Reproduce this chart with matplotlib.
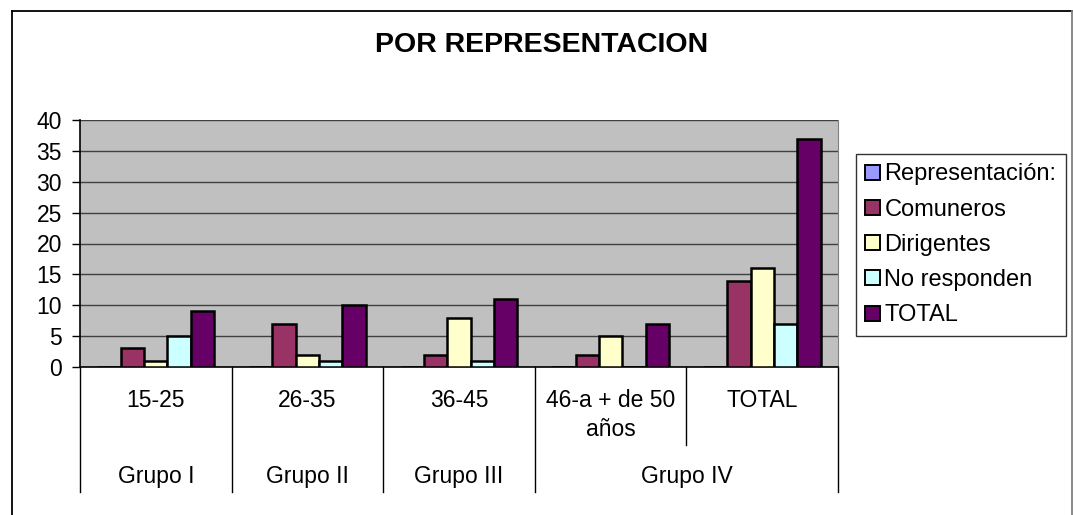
import matplotlib
matplotlib.use("Agg")
import matplotlib.pyplot as plt
import numpy as np
from matplotlib.transforms import blended_transform_factory
from matplotlib.lines import Line2D
from matplotlib.patches import Patch

plt.rcParams['font.family'] = ['Liberation Sans', 'DejaVu Sans']

categories = ["15-25", "26-35", "36-45", "46-a + de 50\naños", "TOTAL"]
groups = ["Grupo I", "Grupo II", "Grupo III", "Grupo IV"]
group_spans = [(0, 0), (1, 1), (2, 2), (3, 4)]
series_names = ["Representación:", "Comuneros", "Dirigentes", "No responden", "TOTAL"]
representacion = [0, 0, 0, 0, 0]
comuneros = [3, 7, 2, 2, 14]
dirigentes = [1, 2, 8, 5, 16]
no_responden = [5, 1, 1, 0, 7]
total = [9, 10, 11, 7, 37]
series_values = [representacion, comuneros, dirigentes, no_responden, total]
colors = ["#9999FF", "#993366", "#FFFFCC", "#CCFFFF", "#660066"]
yticks = [0, 5, 10, 15, 20, 25, 30, 35, 40]

W, H = 1073, 515
fig = plt.figure(figsize=(W / 100, H / 100), dpi=100)
fig.patch.set_facecolor("white")

FS = 16.5

left, right, top, bottom = 80, 838, 120, 367
ax = fig.add_axes([left / W, 1 - bottom / H, (right - left) / W, (bottom - top) / H])
ax.set_facecolor("#C0C0C0")

n = len(series_names)
w = 1 / (n + 1.5)
x = np.arange(len(categories))
for i, (vals, c) in enumerate(zip(series_values, colors)):
    ax.bar(x + (i - (n - 1) / 2) * w, vals, width=w, color=c, edgecolor="black",
           linewidth=1.8, zorder=3)

ax.set_xlim(-0.5, len(categories) - 0.5)
ax.set_ylim(0, 40)
ax.set_yticks(yticks)
ax.set_yticklabels([str(v) for v in yticks], fontsize=FS)
ax.tick_params(axis='y', direction='out', length=6, width=1, pad=7, colors='black')
ax.set_xticks([])
ax.yaxis.grid(True, color="#404040", linewidth=1, zorder=1)
ax.set_axisbelow(True)
ax.spines["top"].set_visible(False)
ax.spines["right"].set_color("#808080")
ax.spines["left"].set_color("black")
ax.spines["bottom"].set_color("black")
ax.spines["left"].set_linewidth(1.2)
ax.spines["bottom"].set_linewidth(1.2)

tr = blended_transform_factory(ax.transData, fig.transFigure)

def fy(py):
    return 1 - py / H

# category labels
for xi, lab in zip(x, categories):
    ax.text(xi, fy(389), lab, transform=tr, ha="center", va="top", fontsize=FS,
            linespacing=1.35)

# group labels
for g, (a, b) in zip(groups, group_spans):
    ax.text((a + b) / 2, fy(476), g, transform=tr, ha="center", va="center", fontsize=FS)

# separator lines
group_bounds = set([-0.5] + [b + 0.5 for (a, b) in group_spans])
for k in range(len(categories) + 1):
    xb = k - 0.5
    ybot = 492 if xb in group_bounds else 445
    ax.add_line(Line2D([xb, xb], [fy(bottom), fy(ybot)], transform=tr, color="black",
                       linewidth=1, clip_on=False))

# title
fig.text(542 / W, fy(45), "POR REPRESENTACION", ha="center", va="center",
         fontsize=20.5, fontweight="bold")

# legend
handles = [Patch(facecolor=c, edgecolor="black", linewidth=1.4) for c in colors]
leg = fig.legend(handles, series_names, loc="upper left",
                 bbox_to_anchor=(856 / W, fy(154)), fontsize=17,
                 frameon=True, fancybox=False, edgecolor="black",
                 handlelength=0.6, handleheight=0.6, handletextpad=0.2,
                 labelspacing=0.56, borderpad=0.4, borderaxespad=0)
leg.get_frame().set_linewidth(1)

# outer border
fig.add_artist(Line2D([12 / W, 12 / W], [0, fy(10.5)], transform=fig.transFigure,
                      color="black", linewidth=1.3))
fig.add_artist(Line2D([12 / W, 1071.5 / W], [fy(10.5), fy(10.5)], transform=fig.transFigure,
                      color="black", linewidth=1.3))
fig.add_artist(Line2D([1071.5 / W, 1071.5 / W], [0, fy(10.5)], transform=fig.transFigure,
                      color="#808080", linewidth=1.3))

fig.savefig("out.png", dpi=100)
